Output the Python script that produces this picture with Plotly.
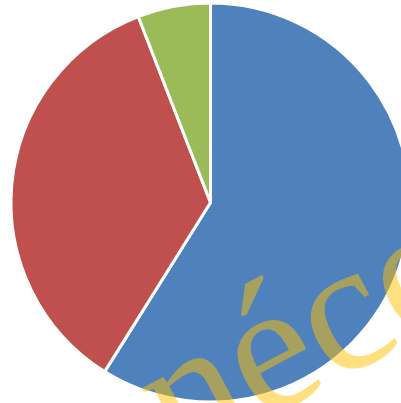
import plotly.graph_objects as go

labels = ["A", "B", "C"]
values = [58.9, 35.2, 5.9]
colors = ["#4F81BD", "#C0504D", "#9BBB59"]
watermark = "néco"

W, H = 420, 403
cx, cy, r = 210.5, 202.5, 199.5

fig = go.Figure(go.Pie(
    labels=labels, values=values, sort=False, direction="clockwise", rotation=0,
    marker=dict(colors=colors, line=dict(color="white", width=3)),
    textinfo="none", hoverinfo="label+percent",
    domain=dict(x=[(cx - r) / W, (cx + r) / W], y=[1 - (cy + r) / H, 1 - (cy - r) / H]),
))
fig.add_annotation(
    text=watermark, xref="paper", yref="paper", x=302 / W, y=1 - 328 / H,
    xanchor="center", yanchor="middle",
    showarrow=False, textangle=-28,
    font=dict(family="Liberation Serif", size=185, color="rgba(255,192,0,0.5)"),
)
fig.update_layout(
    width=W, height=H, margin=dict(l=0, r=0, t=0, b=0),
    paper_bgcolor="white", plot_bgcolor="white", showlegend=False,
)
fig.write_html("out.html", post_script="document.body.style.overflow='hidden';document.body.style.margin='0';")
